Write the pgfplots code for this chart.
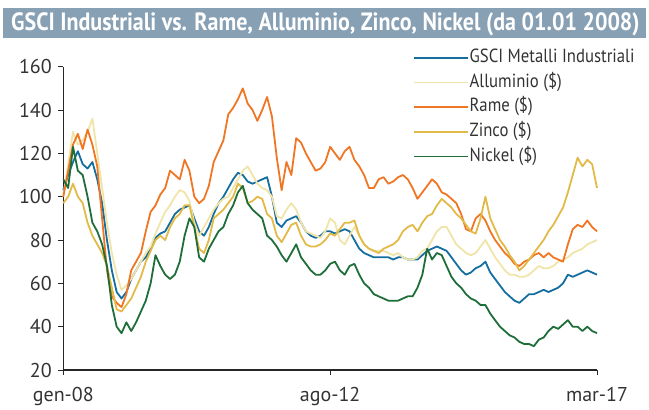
\documentclass[border=0pt]{standalone}
\usepackage{fontspec}
\setmainfont{PT Sans}[FakeStretch=0.88]
\newfontfamily\tickfont{PT Sans}
\usepackage{pgfplots}
\usepackage{pgfplotstable}
\pgfplotsset{compat=1.18}
\definecolor{gsci}{RGB}{20,110,160}
\definecolor{allu}{RGB}{240,228,168}
\definecolor{rame}{RGB}{240,118,36}
\definecolor{zinco}{RGB}{226,186,72}
\definecolor{nickel}{RGB}{30,110,58}
\definecolor{titlebar}{RGB}{135,160,180}
\pgfplotstableread{
m gsci allu rame zinco nickel
0 103 100 100 97 108
1 110 115 112 100 104
2 116 130 124 106 123
3 121 124 129 100 112
4 115 126 122 97 110
5 113 130 131 88 100
6 116 136 124 82 88
7 108 120 114 78 84
8 97 104 90 74 78
9 80 88 66 68 68
10 66 74 54 58 50
11 56 64 51 48 40
12 53 57 49 47 37
13 56 59 55 50 42
14 62 62 66 53 38
15 66 66 70 58 42
16 70 70 74 63 47
17 72 74 84 70 52
18 76 77 93 75 60
19 81 83 96 80 73
20 83 88 101 82 68
21 84 93 104 80 64
22 88 96 112 86 62
23 92 100 110 90 64
24 94 103 108 92 70
25 95 102 117 96 82
26 96 98 112 96 90
27 90 88 100 86 86
28 84 82 97 76 72
29 82 86 99 74 70
30 86 90 105 80 76
31 92 94 116 90 80
32 97 97 121 92 84
33 100 99 126 94 86
34 104 100 138 97 92
35 108 104 141 100 96
36 111 108 145 106 102
37 110 112 150 104 105
38 107 114 143 97 97
39 106 110 140 98 94
40 107 106 135 100 92
41 108 104 140 99 90
42 109 103 146 92 82
43 100 100 137 90 80
44 88 91 118 82 77
45 86 90 103 79 73
46 89 94 116 83 70
47 90 97 110 87 74
48 91 94 127 88 78
49 88 88 125 82 72
50 84 84 120 78 69
51 82 83 116 77 66
52 81 82 112 77 64
53 82 81 113 78 64
54 84 84 116 80 66
55 84 90 123 83 69
56 83 88 120 82 70
57 84 80 117 85 66
58 85 78 121 88 64
59 84 82 123 88 68
60 80 86 117 89 69
61 76 82 114 82 64
62 74 78 110 78 60
63 73 76 104 76 58
64 72 75 104 75 55
65 72 75 108 74 54
66 72 75 109 76 53
67 72 74 106 77 52
68 71 73 107 78 52
69 72 74 109 80 52
70 72 72 110 84 53
71 71 71 108 86 54
72 71 71 104 87 54
73 71 72 99 84 58
74 73 75 102 88 64
75 75 76 105 91 76
76 76 80 108 92 71
77 77 84 106 96 74
78 76 86 102 99 73
79 75 86 101 97 68
80 72 82 99 95 63
81 69 78 97 92 60
82 66 76 92 90 58
83 64 74 85 87 55
84 65 73 84 84 53
85 67 74 90 83 52
86 68 77 92 90 50
87 70 80 89 100 50
88 65 76 84 90 46
89 62 72 80 85 43
90 59 69 77 80 40
91 56 66 74 77 38
92 54 64 72 73 36
93 52 64 69 70 35
94 51 63 68 66 33
95 53 63 70 68 32
96 55 64 71 71 32
97 55 66 73 74 31
98 56 68 74 77 34
99 57 67 72 80 35
100 56 67 74 84 38
101 57 68 72 87 40
102 58 70 71 91 39
103 60 71 70 95 41
104 64 72 78 102 43
105 63 74 85 110 40
106 64 75 87 118 40
107 65 76 86 114 38
108 66 78 89 117 40
109 65 79 86 115 38
110 64 80 84 104 37
}\data
\begin{document}
\begin{tikzpicture}
\path[use as bounding box] (0bp,0bp) rectangle (649bp,410bp);
\fill[titlebar] (3bp,372bp) rectangle (646bp,402bp);
\node[anchor=base west, text=white, inner sep=0pt, font=\bfseries\fontsize{25bp}{28bp}\selectfont] at (11bp,379bp) {GSCI Industriali vs. Rame, Alluminio, Zinco, Nickel (da 01.01 2008)};
\begin{axis}[
  at={(63.3bp,40bp)}, anchor=south west,
  scale only axis, width=533.7bp, height=303.3bp,
  xmin=0, xmax=110, ymin=20, ymax=160,
  axis x line*=bottom, axis y line*=left,
  axis line style={-, draw=black!85, line width=1.1bp},
  xtick={0,55,110}, xticklabels={gen-08,ago-12,mar-17},
  ytick={20,40,...,160},
  tick align=outside, major tick length=5bp,
  tick style={draw=black!85, line width=1bp},
  /pgf/number format/assume math mode=true,
  ticklabel style={font=\tickfont\fontsize{20bp}{23bp}\selectfont, text=black!80},
  yticklabel style={xshift=-3bp},
  xticklabel style={yshift=-9bp},
  legend style={at={(0.655,1.058)}, anchor=north west, draw=none, fill=none,
    font=\fontsize{19bp}{21bp}\selectfont, text=black!80, inner sep=0pt,
    row sep=7.7bp,
    nodes={inner sep=1bp, text height=12bp, text depth=3bp}},
  legend cell align=left,
  legend image code/.code={\draw[#1, line width=1.6bp] (0bp,0bp) -- (54bp,0bp);},
  clip=false,
]
\addplot[gsci, line width=1.8bp, line join=round] table[x=m, y=gsci] {\data};
\addlegendentry{GSCI Metalli Industriali}
\addplot[allu, line width=1.8bp, line join=round] table[x=m, y=allu] {\data};
\addlegendentry{Alluminio (\$)}
\addplot[rame, line width=1.8bp, line join=round] table[x=m, y=rame] {\data};
\addlegendentry{Rame (\$)}
\addplot[zinco, line width=1.8bp, line join=round] table[x=m, y=zinco] {\data};
\addlegendentry{Zinco (\$)}
\addplot[nickel, line width=1.8bp, line join=round] table[x=m, y=nickel] {\data};
\addlegendentry{Nickel (\$)}
\end{axis}
\end{tikzpicture}
\end{document}
